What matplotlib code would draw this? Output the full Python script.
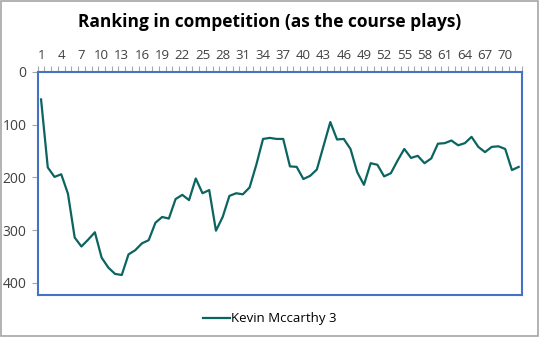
import matplotlib.pyplot as plt
from matplotlib.patches import Rectangle
import numpy as np

plt.rcParams['font.family'] = ['Open Sans', 'DejaVu Sans']

# ranking after each hole played
ranking = [52, 181, 199, 194, 231, 314, 331, 318, 304, 352,
           371, 383, 385, 346, 338, 325, 319, 286, 275, 278,
           241, 233, 243, 202, 230, 224, 301, 275, 235, 230,
           232, 219, 176, 127, 125, 127, 127, 179, 180, 203,
           197, 185, 140, 95, 128, 127, 146, 190, 214, 173,
           176, 198, 192, 168, 146, 163, 159, 173, 164, 136,
           135, 130, 139, 135, 123, 142, 152, 142, 141, 146,
           186, 180]
holes = np.arange(1, len(ranking) + 1)
tick_holes = list(range(1, 71, 3))
y_ticks = [0, 100, 200, 300, 400]
serie = "Kevin Mccarthy 3"

fig = plt.figure(figsize=(5.4, 3.37), dpi=100)
fig.patch.set_facecolor('white')
fig.patches.append(Rectangle((0.002, 0.004), 0.994, 0.993, transform=fig.transFigure,
                             fill=False, edgecolor='#a6a6a6', linewidth=1.2))

ax = fig.add_axes([0.0698, 0.1246, 0.8969, 0.6618])
ax.plot(holes, ranking, color='#0c6460', linewidth=1.6, label=serie)

ax.set_xlim(0.5, len(ranking) + 0.5)
ax.set_ylim(423, 0)
ax.set_yticks(y_ticks)
ax.set_xticks(tick_holes)
ax.set_xticks(np.arange(0.5, len(ranking) + 1, 1), minor=True)
ax.xaxis.tick_top()
ax.tick_params(axis='x', which='major', length=0, pad=7, labelsize=9.5, labelcolor='#404040')
ax.tick_params(axis='x', which='minor', length=4, width=0.8, color='#a6a6a6', direction='out')
ax.tick_params(axis='y', length=4, width=0.8, color='#a6a6a6', pad=4, labelsize=10, labelcolor='#404040')

for s in ax.spines.values():
    s.set_color('#4472c4')
    s.set_linewidth(1.5)

fig.text(0.5, 1 - 22 / 337, "Ranking in competition (as the course plays)", fontsize=12.5,
         fontweight='bold', color='black', ha='center', va='center')

fig.legend(loc='lower center', bbox_to_anchor=(0.5, 0.0), frameon=False,
           fontsize=9.5, handlelength=2.0, handletextpad=0.1)

fig.savefig('out.png', dpi=100)
